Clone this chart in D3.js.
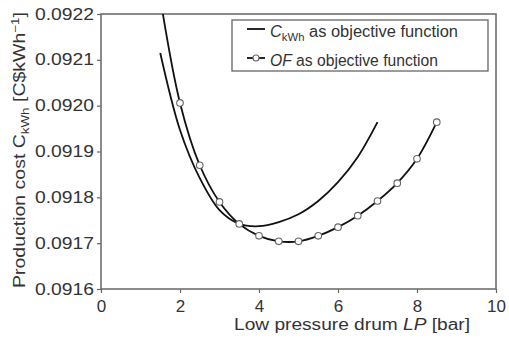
<!DOCTYPE html>
<html>
<head>
<meta charset="utf-8">
<script src="https://cdn.jsdelivr.net/npm/d3@7"></script>
<style>
  html, body { margin: 0; padding: 0; background: #fff; }
  svg { display: block; font-family: "Liberation Sans", Arial, sans-serif; }
</style>
</head>
<body>
<svg id="chart" width="509" height="343"></svg>
<script>
// Production cost vs. low pressure drum pressure
const lpCkwh    = [1.5, 2, 2.5, 3, 3.5, 4, 4.5, 5, 5.5, 6, 6.5, 7];
const costCkwh  = [0.092115, 0.091947, 0.091842, 0.091772, 0.091742, 0.091737,
                   0.091746, 0.091763, 0.091792, 0.091833, 0.091888, 0.091964];

const lpOf      = [1.5, 2, 2.5, 3, 3.5, 4, 4.5, 5, 5.5, 6, 6.5, 7, 7.5, 8, 8.5];
const costOf    = [0.092235, 0.092006, 0.091870, 0.091790, 0.091742, 0.091716,
                   0.091704, 0.091704, 0.091716, 0.091735, 0.091760, 0.091792,
                   0.091831, 0.091884, 0.091964];
// markers are drawn from x = 2 onward
const markerStart = 1;

const xTicks = [0, 2, 4, 6, 8, 10];
const yTicks = [0.0916, 0.0917, 0.0918, 0.0919, 0.0920, 0.0921, 0.0922];

const svg = d3.select("#chart");
const m = { left: 101, right: 496, top: 14, bottom: 289 };

const x = d3.scaleLinear().domain([0, 10]).range([m.left, m.right]);
const y = d3.scaleLinear().domain([0.0916, 0.0922]).range([m.bottom, m.top]);

const axisColor = "#666";
const textColor = "#333";
const fs = 16;

// plot clip
svg.append("clipPath").attr("id", "plotClip")
  .append("rect").attr("x", m.left).attr("y", m.top)
  .attr("width", m.right - m.left).attr("height", m.bottom - m.top);

// axes
const gx = svg.append("g").attr("transform", `translate(0,${m.bottom})`)
  .call(d3.axisBottom(x).tickValues(xTicks).tickFormat(d3.format("d")).tickSize(4).tickPadding(7));
const gy = svg.append("g").attr("transform", `translate(${m.left},0)`)
  .call(d3.axisLeft(y).tickValues(yTicks).tickFormat(d3.format(".4f")).tickSize(4).tickPadding(3));
[gx, gy].forEach(g => {
  g.select(".domain").remove();
  g.selectAll(".tick line").attr("stroke", axisColor).attr("stroke-width", 1.2);
  g.selectAll(".tick text").attr("fill", textColor).attr("font-size", 17)
    .attr("font-family", "'Liberation Sans', Arial, sans-serif");
});
gy.selectAll(".tick text").attr("font-size", fs)
  .attr("textLength", 59).attr("lengthAdjust", "spacingAndGlyphs");

// frame
svg.append("rect")
  .attr("x", m.left).attr("y", m.top)
  .attr("width", m.right - m.left).attr("height", m.bottom - m.top)
  .attr("fill", "none").attr("stroke", axisColor).attr("stroke-width", 1.5);

// curves
const line = d3.line().curve(d3.curveCatmullRom.alpha(0.5))
  .x(d => x(d[0])).y(d => y(d[1]));

const plot = svg.append("g").attr("clip-path", "url(#plotClip)");
const ckwh = lpCkwh.map((v, i) => [v, costCkwh[i]]);
const of = lpOf.map((v, i) => [v, costOf[i]]);

plot.append("path").datum(ckwh).attr("d", line)
  .attr("fill", "none").attr("stroke", "#111").attr("stroke-width", 1.8);
plot.append("path").datum(of).attr("d", line)
  .attr("fill", "none").attr("stroke", "#111").attr("stroke-width", 1.8);

plot.selectAll("circle.of").data(of.slice(markerStart)).join("circle")
  .attr("class", "of")
  .attr("cx", d => x(d[0])).attr("cy", d => y(d[1])).attr("r", 3.3)
  .attr("fill", "#fff").attr("stroke", "#666").attr("stroke-width", 1.1);

// legend
const lg = svg.append("g");
lg.append("rect").attr("x", 232).attr("y", 20).attr("width", 256).attr("height", 51)
  .attr("fill", "#fff").attr("stroke", axisColor).attr("stroke-width", 1.3);
lg.append("line").attr("x1", 247).attr("x2", 265).attr("y1", 29).attr("y2", 29)
  .attr("stroke", "#111").attr("stroke-width", 1.8);
lg.append("line").attr("x1", 247).attr("x2", 265).attr("y1", 58).attr("y2", 58)
  .attr("stroke", "#111").attr("stroke-width", 1.8);
lg.append("circle").attr("cx", 256).attr("cy", 58).attr("r", 3)
  .attr("fill", "#fff").attr("stroke", "#666").attr("stroke-width", 1.1);

const t1 = lg.append("text").attr("x", 270).attr("y", 37)
  .attr("font-size", fs).attr("fill", textColor)
  .attr("textLength", 188).attr("lengthAdjust", "spacingAndGlyphs");
t1.append("tspan").attr("font-style", "italic").text("C");
t1.append("tspan").attr("font-size", 11).attr("dy", 4).text("kWh");
t1.append("tspan").attr("dy", -4).text(" as objective function");

const t2 = lg.append("text").attr("x", 270).attr("y", 66)
  .attr("font-size", fs).attr("fill", textColor)
  .attr("textLength", 168).attr("lengthAdjust", "spacingAndGlyphs");
t2.append("tspan").attr("font-style", "italic").text("OF");
t2.append("tspan").text(" as objective function");

// x axis title
const xt = svg.append("text").attr("x", 234).attr("y", 330)
  .attr("font-size", fs).attr("fill", textColor)
  .attr("textLength", 236).attr("lengthAdjust", "spacingAndGlyphs");
xt.append("tspan").text("Low pressure drum ");
xt.append("tspan").attr("font-style", "italic").text("LP");
xt.append("tspan").text(" [bar]");

// y axis title
const yt = svg.append("text")
  .attr("transform", "translate(25,288) rotate(-90)")
  .attr("font-size", fs).attr("fill", textColor)
  .attr("textLength", 276).attr("lengthAdjust", "spacingAndGlyphs");
yt.append("tspan").text("Production cost C");
yt.append("tspan").attr("font-size", 11).attr("dy", 4).text("kWh");
yt.append("tspan").attr("dy", -4).text(" [C$kWh");
yt.append("tspan").attr("font-size", 11).attr("dy", -6).text("−1");
yt.append("tspan").attr("dy", 6).text("]");
</script>
</body>
</html>
